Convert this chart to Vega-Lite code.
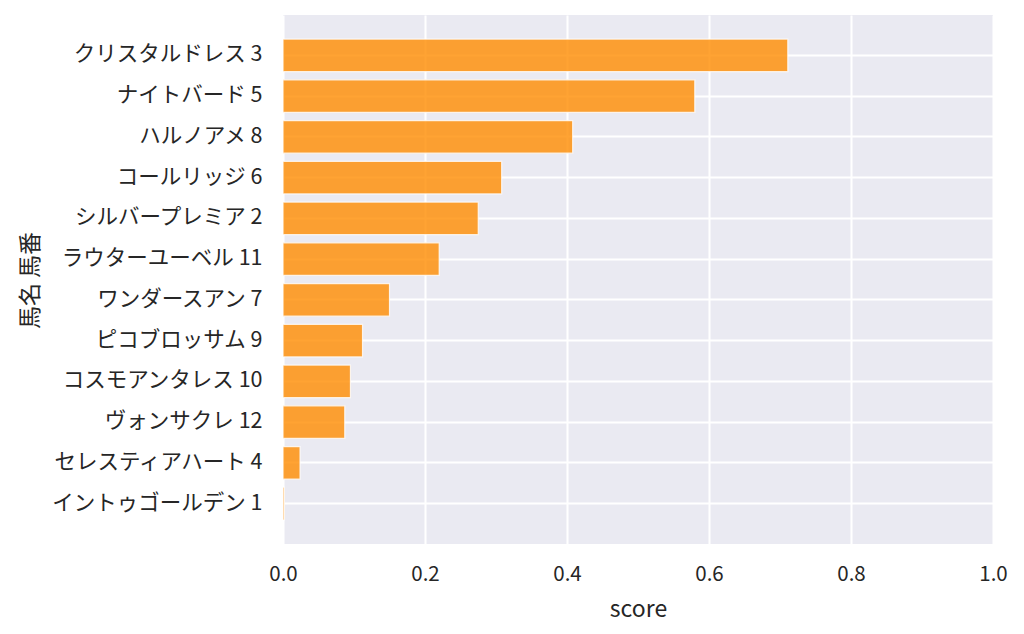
{
  "$schema": "https://vega.github.io/schema/vega-lite/v6.json",
  "description": "馬名ごとのスコア",
  "width": 710,
  "height": 529,
  "autosize": "none",
  "padding": {"left": 283, "top": 15, "right": 31, "bottom": 90},
  "background": "white",
  "data": {
    "values": [
      {"horse": "クリスタルドレス 3", "score": 0.711},
      {"horse": "ナイトバード 5", "score": 0.580},
      {"horse": "ハルノアメ 8", "score": 0.408},
      {"horse": "コールリッジ 6", "score": 0.308},
      {"horse": "シルバープレミア 2", "score": 0.275},
      {"horse": "ラウターユーベル 11", "score": 0.220},
      {"horse": "ワンダースアン 7", "score": 0.150},
      {"horse": "ピコブロッサム 9", "score": 0.112},
      {"horse": "コスモアンタレス 10", "score": 0.095},
      {"horse": "ヴォンサクレ 12", "score": 0.087},
      {"horse": "セレスティアハート 4", "score": 0.024},
      {"horse": "イントゥゴールデン 1", "score": 0.002}
    ]
  },
  "mark": {
    "type": "bar",
    "fill": "#FF8C00",
    "fillOpacity": 0.8,
    "stroke": "white",
    "strokeWidth": 1.2,
    "strokeOpacity": 0.8
  },
  "encoding": {
    "y": {
      "field": "horse",
      "type": "nominal",
      "sort": null,
      "scale": {"paddingInner": 0.2, "paddingOuter": 0.59},
      "axis": {
        "title": "馬名 馬番",
        "bandPosition": 0.5,
        "titleX": -253,
        "titleY": 265,
        "titleAlign": "center",
        "titleBaseline": "middle",
        "titleAngle": -90,
        "labelPadding": 21,
        "labelLimit": 0,
        "labelFontSize": 21.5
      }
    },
    "x": {
      "field": "score",
      "type": "quantitative",
      "scale": {"domain": [0, 1], "nice": false},
      "axis": {
        "title": "score",
        "values": [0, 0.2, 0.4, 0.6, 0.8, 1.0],
        "format": ".1f",
        "labelFlush": false,
        "labelPadding": 20,
        "titlePadding": 14
      }
    }
  },
  "config": {
    "font": "Noto Sans CJK JP",
    "view": {"fill": "#EAEAF2", "stroke": null},
    "axis": {
      "domain": false,
      "ticks": false,
      "grid": true,
      "gridColor": "white",
      "gridWidth": 2,
      "gridOpacity": 1,
      "labelFontSize": 20.5,
      "labelColor": "#262626",
      "labelFont": "Noto Sans CJK JP",
      "titleFontSize": 23,
      "titleFontWeight": "normal",
      "titleColor": "#262626",
      "titleFont": "Noto Sans CJK JP"
    }
  }
}
